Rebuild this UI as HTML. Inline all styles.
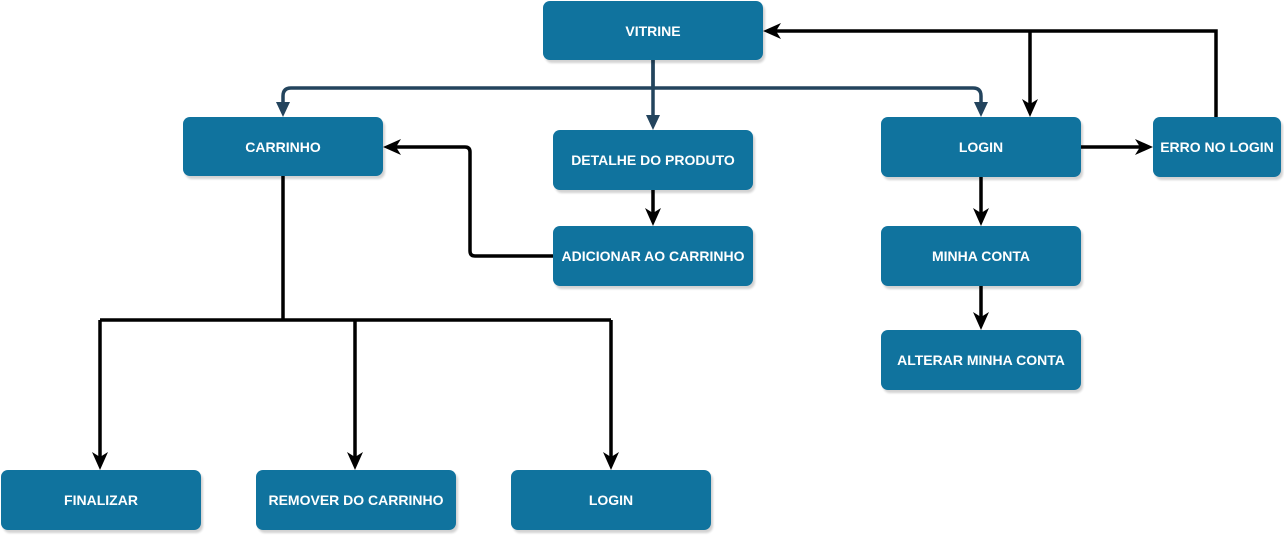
<!DOCTYPE html>
<html><head><meta charset="utf-8"><style>
body{margin:0;width:1284px;height:535px;background:#fff;position:relative;overflow:hidden;font-family:"Liberation Sans",Arial,sans-serif}
.b{position:absolute;background:#10739E;border-radius:7px;color:#fff;font-weight:bold;font-size:14px;display:flex;align-items:center;justify-content:center;box-shadow:2px 3px 2px rgba(0,0,0,0.18);white-space:nowrap}
svg{position:absolute;left:0;top:0}
</style></head><body>
<svg width="1284" height="535" viewBox="0 0 1284 535">
<g fill="none" stroke="#23445D" stroke-width="3.5">
<path d="M653,60 V88 H291 Q283,88 283,96 V104"/>
<path d="M653,60 V118"/>
<path d="M653,88 H973 Q981,88 981,96 V104"/>
</g>
<g fill="#23445D">
<path d="M276,102 L290,102 L283,117 Z"/>
<path d="M646,115 L660,115 L653,130 Z"/>
<path d="M974,102 L988,102 L981,117 Z"/>
</g>
<g fill="none" stroke="#000" stroke-width="3.5">
<path d="M1216,117 V31 H775"/>
<path d="M1030,31 V105"/>
<path d="M1081,147 H1141"/>
<path d="M981,177 V214"/>
<path d="M981,286 V318"/>
<path d="M653,190 V214"/>
<path d="M553,256 H475 Q470,256 470,251 V152 Q470,147 465,147 H395"/>
<path d="M283,176 V320"/>
<path d="M100,320 H611"/>
<path d="M100,320 V458"/>
<path d="M355,320 V458"/>
<path d="M611,320 V458"/>
</g>
<g fill="#000">
<path d="M763,31 L781,23 L776,31 L781,39 Z"/>
<path d="M1030,117 L1022,99 L1030,104 L1038,99 Z"/>
<path d="M1153,147 L1135,139 L1140,147 L1135,155 Z"/>
<path d="M981,226 L973,208 L981,213 L989,208 Z"/>
<path d="M981,330 L973,312 L981,317 L989,312 Z"/>
<path d="M653,226 L645,208 L653,213 L661,208 Z"/>
<path d="M383,147 L401,139 L396,147 L401,155 Z"/>
<path d="M100,470 L92,452 L100,457 L108,452 Z"/>
<path d="M355,470 L347,452 L355,457 L363,452 Z"/>
<path d="M611,470 L603,452 L611,457 L619,452 Z"/>
</g>
</svg>
<div class="b" style="left:543px;top:1px;width:220px;height:59px">VITRINE</div>
<div class="b" style="left:183px;top:117px;width:200px;height:59px">CARRINHO</div>
<div class="b" style="left:553px;top:130px;width:200px;height:60px">DETALHE DO PRODUTO</div>
<div class="b" style="left:553px;top:226px;width:200px;height:60px">ADICIONAR AO CARRINHO</div>
<div class="b" style="left:881px;top:117px;width:200px;height:60px">LOGIN</div>
<div class="b" style="left:1153px;top:117px;width:128px;height:60px">ERRO NO LOGIN</div>
<div class="b" style="left:881px;top:226px;width:200px;height:60px">MINHA CONTA</div>
<div class="b" style="left:881px;top:330px;width:200px;height:60px">ALTERAR MINHA CONTA</div>
<div class="b" style="left:1px;top:470px;width:200px;height:60px">FINALIZAR</div>
<div class="b" style="left:256px;top:470px;width:200px;height:60px">REMOVER DO CARRINHO</div>
<div class="b" style="left:511px;top:470px;width:200px;height:60px">LOGIN</div>
</body></html>
